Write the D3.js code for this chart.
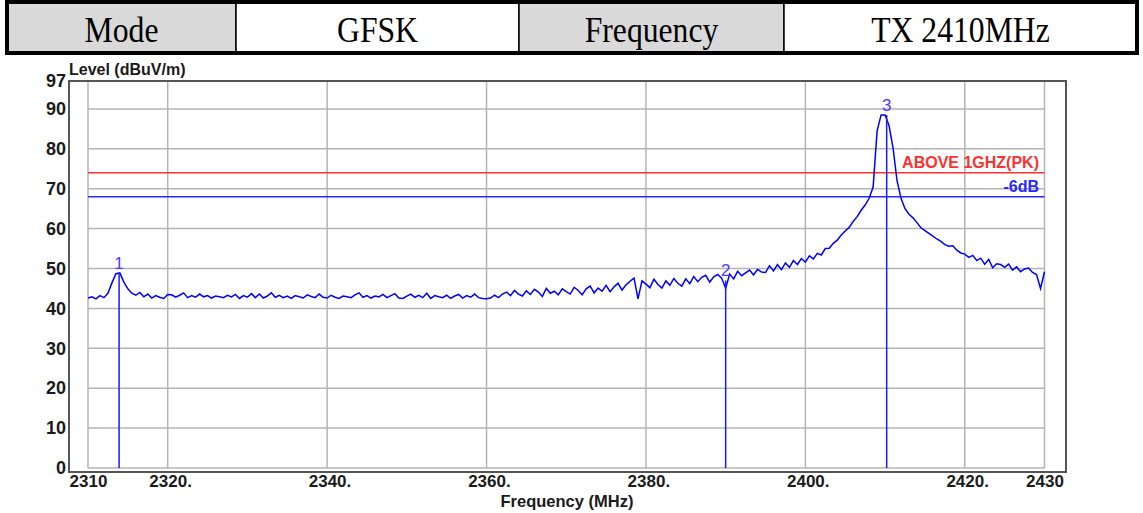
<!DOCTYPE html>
<html>
<head>
<meta charset="utf-8">
<script src="https://cdn.jsdelivr.net/npm/d3@7"></script>
<style>
  body { margin: 0; background: #fff; }
  svg { display: block; }
</style>
</head>
<body>
<svg id="canvas" width="1143" height="513"></svg>
<script>
// header table
let tableLabels = ['Mode', 'GFSK', 'Frequency', 'TX 2410MHz']
let tableShaded = [true, false, true, false]

// axes
let yTicks = [0, 10, 20, 30, 40, 50, 60, 70, 80, 90, 97]
let xTicks = [2310, 2320, 2340, 2360, 2380, 2400, 2420, 2430]
let xTickLabels = ['2310', '2320.', '2340.', '2360.', '2380.', '2400.', '2420.', '2430']

// limit lines
let limitNames = ['ABOVE 1GHZ(PK)', '-6dB']
let limitValues = [74, 68]

// markers
let markerIds = ['1', '2', '3']
let markerFreqs = [2313.9, 2390.0, 2410.2]
let markerLevels = [48.9, 47.0, 88.5]

// trace, 2310 .. 2430 MHz every 0.5 MHz
let freqStart = 2310
let freqStep = 0.5
let levels = [
  42.6, 42.9, 42.4, 43.2, 42.7, 43.8, 46.4, 48.7, 48.9, 46.6,
  44.9, 43.8, 43.3, 44.0, 42.9, 43.6, 42.6, 43.2, 42.8, 42.5,
  43.5, 43.4, 42.8, 43.3, 43.9, 42.7, 43.2, 42.8, 43.6, 42.9,
  43.2, 42.6, 43.1, 42.9, 42.7, 43.3, 42.9, 43.5, 42.5, 43.2,
  42.8, 43.7, 42.7, 43.6, 42.6, 43.1, 43.9, 42.8, 43.3, 42.7,
  43.1, 42.5, 43.2, 42.9, 42.6, 43.4, 43.0, 42.7, 43.6, 42.8,
  42.6, 43.3, 42.8, 42.5, 43.1, 42.9, 42.7, 43.4, 43.9, 42.8,
  43.2, 42.6, 43.1, 42.9, 43.5, 42.7, 43.2, 43.7, 42.6, 42.5,
  43.1, 43.6, 42.8, 43.3, 42.7, 43.8, 42.5, 43.2, 42.9, 42.7,
  43.3, 42.5, 43.1, 43.5, 42.6, 43.2, 42.8, 43.6, 42.7, 42.5,
  42.4, 42.6, 43.3, 42.7, 43.6, 44.1, 43.2, 44.5, 43.6, 43.1,
  44.4, 43.5, 44.8, 44.1, 43.0, 45.0, 43.8, 44.3, 43.4, 44.9,
  44.2, 43.6, 45.3, 44.5, 43.4, 44.9, 45.6, 43.9, 45.1, 44.3,
  45.8, 44.2, 45.4, 46.3, 44.6, 45.9, 46.8, 47.6, 42.4, 46.9,
  46.1, 45.2, 47.3, 46.0, 45.1, 46.9, 45.8, 47.5, 46.3, 45.6,
  47.4, 46.2, 48.0, 46.7, 47.8, 48.3, 46.6, 47.9, 48.5, 47.6,
  45.0, 48.6, 47.4, 49.3, 48.2, 48.9, 49.6, 48.4, 49.8, 49.1,
  49.0, 50.7, 49.4, 51.0, 49.7, 51.4, 50.3, 52.0, 51.0, 52.5,
  51.6, 53.2, 52.4, 53.8, 53.4, 55.0, 55.1, 56.3, 57.1, 58.4,
  59.4, 60.3, 61.8, 63.0, 64.6, 65.9, 67.6, 70.4, 84.5, 88.5,
  88.5, 85.8, 80.2, 72.0, 67.6, 65.0, 63.6, 62.7, 61.5, 60.2,
  59.5, 58.8, 58.1, 57.4, 56.8, 56.0, 55.6, 55.7, 54.6, 53.9,
  53.6, 52.8, 53.3, 52.0, 52.6, 51.1, 52.3, 50.2, 51.2, 51.0,
  50.3, 51.1, 49.6, 50.4, 49.2, 49.9, 50.1, 49.0, 48.5, 45.0,
  49.2
]

let canvas = d3.select('#canvas')

// ---- header table ----
let cellEdges = [7, 236, 519, 784, 1137]
let table = canvas.append('g')

table.selectAll('rect.cell')
  .data(tableLabels)
  .enter()
  .append('rect')
  .attr('class', 'cell')
  .attr('x', (d, i) => cellEdges[i])
  .attr('y', 2)
  .attr('width', (d, i) => cellEdges[i + 1] - cellEdges[i])
  .attr('height', 51)
  .attr('fill', (d, i) => tableShaded[i] ? '#d9d9d9' : '#ffffff')
  .attr('stroke', '#000')
  .attr('stroke-width', 1.5)

table.append('rect')
  .attr('x', 7).attr('y', 2)
  .attr('width', 1130).attr('height', 51)
  .attr('fill', 'none')
  .attr('stroke', '#000')
  .attr('stroke-width', 4)

table.selectAll('text')
  .data(tableLabels)
  .enter()
  .append('text')
  .attr('transform', (d, i) => {
    let cx = (cellEdges[i] + cellEdges[i + 1]) / 2
    return 'translate(' + cx + ',42) scale(0.88,1)'
  })
  .attr('text-anchor', 'middle')
  .style('font-family', '"Liberation Serif", "Times New Roman", serif')
  .style('font-size', '36px')
  .attr('fill', '#000')
  .text(d => d)

// ---- chart ----
let x = d3.scaleLinear().domain([2310, 2430]).range([88, 1044.5])
let y = d3.scaleLinear().domain([0, 97]).range([468, 81])

let frameLeft = 69, frameRight = 1066, frameTop = 81, frameBottom = 472

// grid
canvas.append('g')
  .selectAll('line')
  .data(xTicks)
  .enter()
  .append('line')
  .attr('x1', d => x(d)).attr('x2', d => x(d))
  .attr('y1', frameTop).attr('y2', y(0))
  .attr('stroke', '#b4b4b4')
  .attr('stroke-width', 1.5)

canvas.append('g')
  .selectAll('line')
  .data(yTicks.filter(d => d < 97))
  .enter()
  .append('line')
  .attr('x1', x(2310)).attr('x2', x(2430))
  .attr('y1', d => y(d)).attr('y2', d => y(d))
  .attr('stroke', '#b4b4b4')
  .attr('stroke-width', 1.5)

// frame
canvas.append('rect')
  .attr('x', frameLeft).attr('y', frameTop)
  .attr('width', frameRight - frameLeft)
  .attr('height', frameBottom - frameTop)
  .attr('fill', 'none')
  .attr('stroke', '#555')
  .attr('stroke-width', 2)

// axes
let yAxis = canvas.append('g')
  .attr('transform', 'translate(' + frameLeft + ',0)')
  .call(d3.axisLeft(y).tickValues(yTicks).tickSize(0).tickPadding(3).tickFormat(d3.format('d')))
yAxis.select('.domain').remove()
yAxis.selectAll('text')
  .style('font-family', 'Arial, "Liberation Sans", sans-serif')
  .style('font-size', '18px')
  .style('font-weight', 'bold')
  .attr('fill', '#1a1a1a')

let xAxis = canvas.append('g')
  .attr('transform', 'translate(0,' + frameBottom + ')')
  .call(d3.axisBottom(x).tickValues(xTicks).tickSize(0).tickPadding(3)
    .tickFormat((d, i) => xTickLabels[i]))
xAxis.select('.domain').remove()
xAxis.selectAll('text')
  .style('font-family', 'Arial, "Liberation Sans", sans-serif')
  .style('font-size', '17px')
  .style('font-weight', 'bold')
  .attr('fill', '#1a1a1a')
  .attr('dx', (d, i) => xTickLabels[i].endsWith('.') ? '0.14em' : 0)

canvas.append('text')
  .attr('x', frameLeft)
  .attr('y', 75)
  .style('font-family', 'Arial, "Liberation Sans", sans-serif')
  .style('font-size', '16px')
  .style('font-weight', 'bold')
  .attr('fill', '#1a1a1a')
  .text('Level (dBuV/m)')

canvas.append('text')
  .attr('x', 567)
  .attr('y', 507)
  .attr('text-anchor', 'middle')
  .style('font-family', 'Arial, "Liberation Sans", sans-serif')
  .style('font-size', '16.5px')
  .style('font-weight', 'bold')
  .attr('fill', '#1a1a1a')
  .text('Frequency (MHz)')

// limit lines
let limitColors = ['#ff3030', '#2828ff']
canvas.append('g')
  .selectAll('line')
  .data(limitValues)
  .enter()
  .append('line')
  .attr('x1', x(2310)).attr('x2', x(2430))
  .attr('y1', d => y(d)).attr('y2', d => y(d))
  .attr('stroke', (d, i) => limitColors[i])
  .attr('stroke-width', 1.5)

canvas.append('g')
  .selectAll('text')
  .data(limitValues)
  .enter()
  .append('text')
  .attr('x', 1039)
  .attr('y', d => y(d) - 5)
  .attr('text-anchor', 'end')
  .style('font-family', 'Arial, "Liberation Sans", sans-serif')
  .style('font-size', '16px')
  .style('font-weight', 'bold')
  .attr('fill', (d, i) => limitColors[i])
  .text((d, i) => limitNames[i])

// trace
let traceData = levels.map((v, i) => ({ f: freqStart + i * freqStep, v: v }))
let line = d3.line()
  .x(d => x(d.f))
  .y(d => y(d.v))

canvas.append('path')
  .datum(traceData)
  .attr('d', line)
  .attr('fill', 'none')
  .attr('stroke', '#0000ff')
  .attr('stroke-width', 1.5)

// markers
canvas.append('g')
  .selectAll('line')
  .data(markerFreqs)
  .enter()
  .append('line')
  .attr('x1', d => x(d)).attr('x2', d => x(d))
  .attr('y1', (d, i) => y(markerLevels[i]))
  .attr('y2', y(0))
  .attr('stroke', '#1a1aff')
  .attr('stroke-width', 1.5)

canvas.append('g')
  .selectAll('text')
  .data(markerFreqs)
  .enter()
  .append('text')
  .attr('x', d => x(d))
  .attr('y', (d, i) => y(markerLevels[i]) - 4)
  .attr('text-anchor', 'middle')
  .style('font-family', 'Arial, "Liberation Sans", sans-serif')
  .style('font-size', '17px')
  .attr('fill', '#4a3cff')
  .text((d, i) => markerIds[i])
</script>
</body>
</html>
